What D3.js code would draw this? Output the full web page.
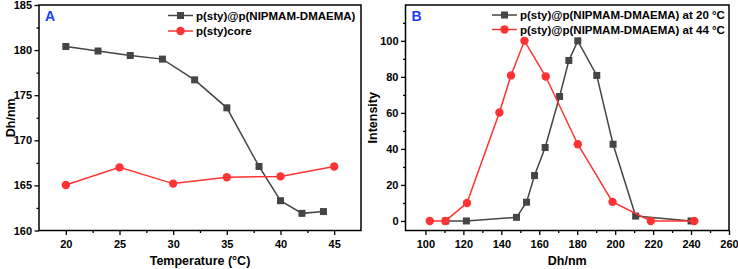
<!DOCTYPE html>
<html><head><meta charset="utf-8">
<script src="https://cdn.jsdelivr.net/npm/d3@7"></script>
<style>
body{margin:0;background:#fff;}
svg text{font-family:"Liberation Sans",Arial,sans-serif;font-weight:bold;fill:#000;}
</style></head>
<body><svg id="c" width="738" height="269"></svg>
<script>
// Panel A data
const tempShell = [20, 23, 26, 29, 32, 35, 38, 40, 42, 44];
const dhShell = [180.4, 179.9, 179.4, 179.0, 176.7, 173.6, 167.1, 163.3, 161.9, 162.1];
const tempCore = [20, 25, 30, 35, 40, 45];
const dhCore = [165.05, 167.0, 165.2, 165.9, 166.0, 167.1];
const aXTicks = [20, 25, 30, 35, 40, 45];
const aYTicks = [160, 165, 170, 175, 180, 185];
const aLegend = ["p(sty)@p(NIPMAM-DMAEMA)", "p(sty)core"];

// Panel B data
const dh20 = [110.7, 121.6, 148, 153.3, 157.5, 163.1, 170.7, 175.6, 180.3, 190.3, 198.9, 210.8, 240];
const int20 = [0, 0, 2, 10.4, 25.2, 40.8, 69.1, 89.1, 100, 80.8, 42.6, 2.7, 0];
const dh44 = [102.3, 110.5, 121.9, 139, 145.1, 152.2, 163.4, 180.3, 198.6, 218.8, 241.7];
const int44 = [0, 0, 10, 60.2, 80.8, 100, 80.2, 42.6, 10.6, 0, 0];
const bXTicks = [100, 120, 140, 160, 180, 200, 220, 240, 260];
const bYTicks = [0, 20, 40, 60, 80, 100];
const bLegend = ["p(sty)@p(NIPMAM-DMAEMA) at 20 °C", "p(sty)@p(NIPMAM-DMAEMA) at 44 °C"];

const GRAY = "#454545", RED = "#ff3333", BLUE = "#1a3cff";
const svg = d3.select("#c");

function panel(o) {
  const g = svg.append("g");
  const x = d3.scaleLinear().domain(o.xd).range([o.l, o.r]);
  const y = d3.scaleLinear().domain(o.yd).range([o.b, o.t]);
  // minor ticks
  const xa = d3.axisBottom(x).tickValues(o.xMinor).tickSize(2.5).tickFormat("");
  g.append("g").attr("transform", `translate(0,${o.b})`).call(xa);
  const ya = d3.axisLeft(y).tickValues(o.yMinor).tickSize(2.5).tickFormat("");
  g.append("g").attr("transform", `translate(${o.l},0)`).call(ya);
  // major ticks
  const xA = g.append("g").attr("transform", `translate(0,${o.b})`)
    .call(d3.axisBottom(x).tickValues(o.xTicks).tickSize(4.5).tickPadding(5).tickFormat(d3.format("d")));
  const yA = g.append("g").attr("transform", `translate(${o.l},0)`)
    .call(d3.axisLeft(y).tickValues(o.yTicks).tickSize(4.5).tickPadding(2.5).tickFormat(d3.format("d")));
  g.selectAll(".domain").remove();
  g.selectAll(".tick line").attr("stroke", "#000").attr("stroke-width", 1.3);
  g.selectAll(".tick text").attr("font-size", "11px").attr("font-family", '"Liberation Sans",Arial,sans-serif').attr("font-weight", "bold").attr("fill", "#000");
  // frame
  g.append("rect").attr("x", o.l).attr("y", o.t).attr("width", o.r - o.l).attr("height", o.b - o.t)
    .attr("fill", "none").attr("stroke", "#000").attr("stroke-width", 1.5);
  // series
  o.series.forEach(s => {
    const pts = s.xs.map((v, i) => [x(v), y(s.ys[i])]);
    g.append("path").attr("d", d3.line()(pts)).attr("fill", "none").attr("stroke", s.color).attr("stroke-width", 1.5);
    if (s.shape === "sq") {
      g.selectAll(null).data(pts).enter().append("rect")
        .attr("x", d => d[0] - 3.5).attr("y", d => d[1] - 3.5).attr("width", 7).attr("height", 7).attr("fill", s.color);
    } else {
      g.selectAll(null).data(pts).enter().append("circle")
        .attr("cx", d => d[0]).attr("cy", d => d[1]).attr("r", 4.2).attr("fill", s.color);
    }
  });
  // legend
  o.series.forEach((s, i) => {
    const ly = o.legY + i * o.legDy;
    g.append("line").attr("x1", o.legX).attr("x2", o.legX + 25).attr("y1", ly).attr("y2", ly)
      .attr("stroke", s.color).attr("stroke-width", 1.5);
    const cx = o.legX + 12.5;
    if (s.shape === "sq") g.append("rect").attr("x", cx - 3.5).attr("y", ly - 3.5).attr("width", 7).attr("height", 7).attr("fill", s.color);
    else g.append("circle").attr("cx", cx).attr("cy", ly).attr("r", 4.2).attr("fill", s.color);
    g.append("text").attr("x", o.legX + 28).attr("y", ly + 4).attr("font-size", "11.5px").text(o.legend[i]);
  });
  // panel label
  g.append("text").attr("x", o.l + 6).attr("y", o.t + 16).attr("font-size", "14px").style("fill", BLUE).text(o.label);
  // axis titles
  g.append("text").attr("x", (o.l + o.r) / 2).attr("y", 265).attr("text-anchor", "middle").attr("font-size", "12.5px").text(o.xTitle);
  g.append("text").attr("transform", `translate(${o.yTitleX},${(o.t + o.b) / 2}) rotate(-90)`)
    .attr("text-anchor", "middle").attr("font-size", "12.5px").text(o.yTitle);
}

panel({
  l: 39, r: 361, t: 5, b: 230.5, xd: [17.5, 47.5], yd: [160, 185],
  xTicks: aXTicks, yTicks: aYTicks,
  xMinor: [22.5, 27.5, 32.5, 37.5, 42.5], yMinor: [162.5, 167.5, 172.5, 177.5, 182.5],
  series: [
    { xs: tempShell, ys: dhShell, color: GRAY, shape: "sq" },
    { xs: tempCore, ys: dhCore, color: RED, shape: "ci" }
  ],
  legend: aLegend, legX: 168, legY: 15.5, legDy: 15.5,
  label: "A", xTitle: "Temperature (°C)", yTitle: "Dh/nm", yTitleX: 15
});

panel({
  l: 405.5, r: 729, t: 5, b: 230.5, xd: [89.5, 260], yd: [-5.3, 119.9],
  xTicks: bXTicks, yTicks: bYTicks,
  xMinor: [110, 130, 150, 170, 190, 210, 230, 250], yMinor: [10, 30, 50, 70, 90, 110],
  series: [
    { xs: dh20, ys: int20, color: GRAY, shape: "sq" },
    { xs: dh44, ys: int44, color: RED, shape: "ci" }
  ],
  legend: bLegend, legX: 492, legY: 15, legDy: 14.5,
  label: "B", xTitle: "Dh/nm", yTitle: "Intensity", yTitleX: 377
});
</script></body></html>
